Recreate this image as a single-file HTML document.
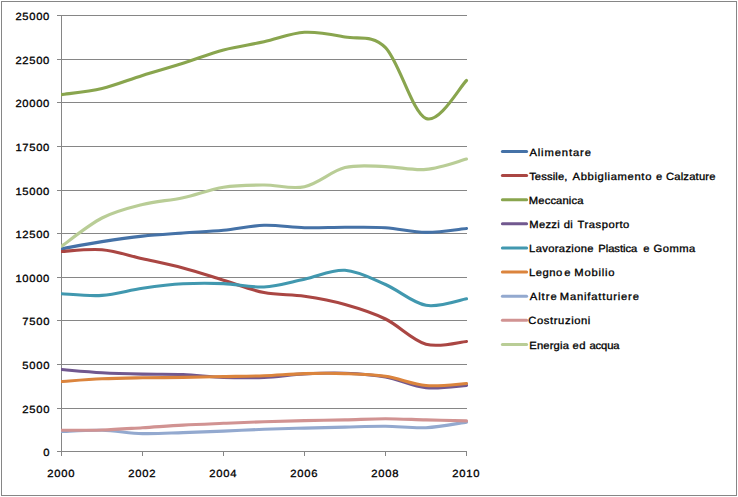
<!DOCTYPE html>
<html lang="it"><head><meta charset="utf-8"><title>Grafico</title>
<style>
html,body{margin:0;padding:0;background:#fff;}
body{width:738px;height:497px;overflow:hidden;}
svg{display:block;font-family:"Liberation Sans",sans-serif;font-size:10.4px;fill:#000;}
text{stroke:#000;stroke-width:0.3px;text-rendering:geometricPrecision;}
.g{stroke:#868686;stroke-width:1;fill:none;shape-rendering:crispEdges;}
.s{fill:none;stroke-width:3.1;stroke-linecap:round;stroke-linejoin:round;}
</style></head><body>
<svg width="738" height="497" viewBox="0 0 738 497">
<rect x="0" y="0" width="738" height="497" fill="#fff"/>
<rect class="g" x="1.5" y="1.5" width="735" height="494"/>
<g class="g">
<line x1="57" y1="15.50" x2="467" y2="15.50"/>
<line x1="57" y1="59.50" x2="467" y2="59.50"/>
<line x1="57" y1="102.50" x2="467" y2="102.50"/>
<line x1="57" y1="146.50" x2="467" y2="146.50"/>
<line x1="57" y1="190.50" x2="467" y2="190.50"/>
<line x1="57" y1="233.50" x2="467" y2="233.50"/>
<line x1="57" y1="277.50" x2="467" y2="277.50"/>
<line x1="57" y1="320.50" x2="467" y2="320.50"/>
<line x1="57" y1="364.50" x2="467" y2="364.50"/>
<line x1="57" y1="408.50" x2="467" y2="408.50"/>
<line x1="57" y1="451.50" x2="467" y2="451.50"/>
<line x1="61.5" y1="15" x2="61.5" y2="452"/>
<line x1="61.50" y1="451.5" x2="61.50" y2="456"/>
<line x1="142.50" y1="451.5" x2="142.50" y2="456"/>
<line x1="223.50" y1="451.5" x2="223.50" y2="456"/>
<line x1="304.50" y1="451.5" x2="304.50" y2="456"/>
<line x1="385.50" y1="451.5" x2="385.50" y2="456"/>
<line x1="466.50" y1="451.5" x2="466.50" y2="456"/>
</g>
<g style="font-size:10.4px;letter-spacing:0.641px">
<text transform="translate(15.39,19.70) scale(1.08,1)">25000</text>
<text transform="translate(15.39,63.70) scale(1.08,1)">22500</text>
<text transform="translate(15.39,106.70) scale(1.08,1)">20000</text>
<text transform="translate(15.39,150.70) scale(1.08,1)">17500</text>
<text transform="translate(15.39,194.70) scale(1.08,1)">15000</text>
<text transform="translate(15.39,237.70) scale(1.08,1)">12500</text>
<text transform="translate(15.39,281.70) scale(1.08,1)">10000</text>
<text transform="translate(22.33,324.70) scale(1.08,1)">7500</text>
<text transform="translate(22.33,368.70) scale(1.08,1)">5000</text>
<text transform="translate(22.33,412.70) scale(1.08,1)">2500</text>
<text transform="translate(43.15,455.70) scale(1.08,1)">0</text>
<text transform="translate(47.37,476.90) scale(1.08,1)">2000</text>
<text transform="translate(128.37,476.90) scale(1.08,1)">2002</text>
<text transform="translate(209.37,476.90) scale(1.08,1)">2004</text>
<text transform="translate(290.37,476.90) scale(1.08,1)">2006</text>
<text transform="translate(371.37,476.90) scale(1.08,1)">2008</text>
<text transform="translate(452.37,476.90) scale(1.08,1)">2010</text>
</g>
<clipPath id="plot"><rect x="61" y="0" width="430" height="497"/></clipPath>
<g class="s" clip-path="url(#plot)">
<path stroke="#4572A7" d="M61.50,248.80 C68.25,247.60 88.50,243.72 102.00,241.60 C115.50,239.48 129.00,237.53 142.50,236.10 C156.00,234.67 169.50,233.97 183.00,233.00 C196.50,232.03 210.00,231.58 223.50,230.30 C237.00,229.02 250.50,225.73 264.00,225.30 C277.50,224.87 291.00,227.37 304.50,227.70 C318.00,228.03 331.50,227.30 345.00,227.30 C358.50,227.30 372.00,226.85 385.50,227.70 C399.00,228.55 412.50,232.27 426.00,232.40 C439.50,232.53 459.75,229.15 466.50,228.50"/>
<path stroke="#AA4643" d="M61.50,251.50 C68.25,251.20 88.50,248.50 102.00,249.70 C115.50,250.90 129.00,255.65 142.50,258.70 C156.00,261.75 169.50,264.42 183.00,268.00 C196.50,271.58 210.00,276.10 223.50,280.20 C237.00,284.30 250.50,289.92 264.00,292.60 C277.50,295.28 291.00,294.32 304.50,296.30 C318.00,298.28 331.50,300.72 345.00,304.50 C358.50,308.28 372.00,312.38 385.50,319.00 C399.00,325.62 412.50,340.45 426.00,344.20 C439.50,347.95 459.75,341.95 466.50,341.50"/>
<path stroke="#89A54E" d="M61.50,94.60 C68.25,93.57 88.50,91.60 102.00,88.40 C115.50,85.20 129.00,79.58 142.50,75.40 C156.00,71.22 169.50,67.55 183.00,63.30 C196.50,59.05 210.00,53.48 223.50,49.90 C237.00,46.32 250.50,44.73 264.00,41.80 C277.50,38.87 291.00,33.10 304.50,32.30 C318.00,31.50 331.50,34.45 345.00,37.00 C358.50,39.55 372.00,34.02 385.50,47.60 C399.00,61.18 412.50,113.02 426.00,118.50 C439.50,123.98 459.75,86.83 466.50,80.50"/>
<path stroke="#71588F" d="M61.50,369.50 C68.25,370.03 88.50,371.93 102.00,372.70 C115.50,373.47 129.00,373.80 142.50,374.10 C156.00,374.40 169.50,373.95 183.00,374.50 C196.50,375.05 210.00,376.92 223.50,377.40 C237.00,377.88 250.50,377.98 264.00,377.40 C277.50,376.82 291.00,374.60 304.50,373.90 C318.00,373.20 331.50,372.70 345.00,373.20 C358.50,373.70 372.00,374.48 385.50,376.90 C399.00,379.32 412.50,386.28 426.00,387.70 C439.50,389.12 459.75,385.78 466.50,385.40"/>
<path stroke="#4198AF" d="M61.50,293.80 C68.25,294.07 88.50,296.32 102.00,295.40 C115.50,294.48 129.00,290.23 142.50,288.30 C156.00,286.37 169.50,284.58 183.00,283.80 C196.50,283.02 210.00,283.07 223.50,283.60 C237.00,284.13 250.50,287.73 264.00,287.00 C277.50,286.27 291.00,281.98 304.50,279.20 C318.00,276.42 331.50,269.42 345.00,270.30 C358.50,271.18 372.00,278.67 385.50,284.50 C399.00,290.33 412.50,302.92 426.00,305.30 C439.50,307.68 459.75,299.88 466.50,298.80"/>
<path stroke="#DB843D" d="M61.50,381.50 C68.25,381.05 88.50,379.42 102.00,378.80 C115.50,378.18 129.00,378.03 142.50,377.80 C156.00,377.57 169.50,377.60 183.00,377.40 C196.50,377.20 210.00,376.88 223.50,376.60 C237.00,376.32 250.50,376.20 264.00,375.70 C277.50,375.20 291.00,373.95 304.50,373.60 C318.00,373.25 331.50,373.15 345.00,373.60 C358.50,374.05 372.00,374.32 385.50,376.30 C399.00,378.28 412.50,384.30 426.00,385.50 C439.50,386.70 459.75,383.83 466.50,383.50"/>
<path stroke="#93A9CF" d="M61.50,431.50 C68.25,431.30 88.50,429.95 102.00,430.30 C115.50,430.65 129.00,433.22 142.50,433.60 C156.00,433.98 169.50,433.02 183.00,432.60 C196.50,432.18 210.00,431.65 223.50,431.10 C237.00,430.55 250.50,429.80 264.00,429.30 C277.50,428.80 291.00,428.47 304.50,428.10 C318.00,427.73 331.50,427.40 345.00,427.10 C358.50,426.80 372.00,426.20 385.50,426.30 C399.00,426.40 412.50,428.40 426.00,427.70 C439.50,427.00 459.75,423.03 466.50,422.10"/>
<path stroke="#D19392" d="M61.50,430.30 C68.25,430.25 88.50,430.43 102.00,430.00 C115.50,429.57 129.00,428.52 142.50,427.70 C156.00,426.88 169.50,425.83 183.00,425.10 C196.50,424.37 210.00,423.87 223.50,423.30 C237.00,422.73 250.50,422.15 264.00,421.70 C277.50,421.25 291.00,420.90 304.50,420.60 C318.00,420.30 331.50,420.22 345.00,419.90 C358.50,419.58 372.00,418.70 385.50,418.70 C399.00,418.70 412.50,419.53 426.00,419.90 C439.50,420.27 459.75,420.73 466.50,420.90"/>
<path stroke="#B9CD96" d="M61.50,246.20 C68.25,241.50 88.50,224.95 102.00,218.00 C115.50,211.05 129.00,207.88 142.50,204.50 C156.00,201.12 169.50,200.58 183.00,197.70 C196.50,194.82 210.00,189.32 223.50,187.20 C237.00,185.08 250.50,185.08 264.00,185.00 C277.50,184.92 291.00,189.60 304.50,186.70 C318.00,183.80 331.50,170.95 345.00,167.60 C358.50,164.25 372.00,166.30 385.50,166.60 C399.00,166.90 412.50,170.65 426.00,169.40 C439.50,168.15 459.75,160.82 466.50,159.10"/>
</g>
<g class="s">
<line stroke="#4572A7" stroke-width="3" x1="502.4" y1="151.50" x2="526.6" y2="151.50"/>
<line stroke="#AA4643" stroke-width="3" x1="502.4" y1="175.62" x2="526.6" y2="175.62"/>
<line stroke="#89A54E" stroke-width="3" x1="502.4" y1="199.74" x2="526.6" y2="199.74"/>
<line stroke="#71588F" stroke-width="3" x1="502.4" y1="223.86" x2="526.6" y2="223.86"/>
<line stroke="#4198AF" stroke-width="3" x1="502.4" y1="247.98" x2="526.6" y2="247.98"/>
<line stroke="#DB843D" stroke-width="3" x1="502.4" y1="272.10" x2="526.6" y2="272.10"/>
<line stroke="#93A9CF" stroke-width="3" x1="502.4" y1="296.22" x2="526.6" y2="296.22"/>
<line stroke="#D19392" stroke-width="3" x1="502.4" y1="320.34" x2="526.6" y2="320.34"/>
<line stroke="#B9CD96" stroke-width="3" x1="502.4" y1="344.46" x2="526.6" y2="344.46"/>
</g>
<g>
<text transform="translate(0,155.55) scale(1.08,1)"><tspan x="490.18" textLength="56.94" lengthAdjust="spacing">Alimentare</tspan></text>
<text transform="translate(0,179.67) scale(1.08,1)"><tspan x="489.94" textLength="35.45" lengthAdjust="spacing">Tessile,</tspan> <tspan x="530.14" textLength="72.99" lengthAdjust="spacing">Abbigliamento</tspan> <tspan x="607.43">e</tspan> <tspan x="616.63" textLength="45.90" lengthAdjust="spacing">Calzature</tspan></text>
<text transform="translate(0,203.79) scale(1.08,1)"><tspan x="489.66" textLength="50.57" lengthAdjust="spacing">Meccanica</tspan></text>
<text transform="translate(0,227.91) scale(1.08,1)"><tspan x="490.17" textLength="28.05" lengthAdjust="spacing">Mezzi</tspan> <tspan x="521.89" textLength="8.54" lengthAdjust="spacing">di</tspan> <tspan x="534.73" textLength="47.98" lengthAdjust="spacing">Trasporto</tspan></text>
<text transform="translate(0,252.03) scale(1.08,1)"><tspan x="489.90" textLength="59.68" lengthAdjust="spacing">Lavorazione</tspan> <tspan x="553.98" textLength="36.08" lengthAdjust="spacing">Plastica</tspan> <tspan x="595.53">e</tspan> <tspan x="605.21" textLength="38.56" lengthAdjust="spacing">Gomma</tspan></text>
<text transform="translate(0,276.15) scale(1.08,1)"><tspan x="489.90" textLength="30.70" lengthAdjust="spacing">Legno</tspan> <tspan x="522.39">e</tspan> <tspan x="531.84" textLength="37.14" lengthAdjust="spacing">Mobilio</tspan></text>
<text transform="translate(0,300.27) scale(1.08,1)"><tspan x="490.44" textLength="25.03" lengthAdjust="spacing">Altre</tspan> <tspan x="518.34" textLength="73.21" lengthAdjust="spacing">Manifatturiere</tspan></text>
<text transform="translate(0,324.39) scale(1.08,1)"><tspan x="489.19" textLength="57.46" lengthAdjust="spacing">Costruzioni</tspan></text>
<text transform="translate(0,348.51) scale(1.08,1)"><tspan x="490.09" textLength="36.66" lengthAdjust="spacing">Energia</tspan> <tspan x="530.19" textLength="11.99" lengthAdjust="spacing">ed</tspan> <tspan x="545.78" textLength="27.94" lengthAdjust="spacing">acqua</tspan></text>
</g>
</svg>
</body></html>
